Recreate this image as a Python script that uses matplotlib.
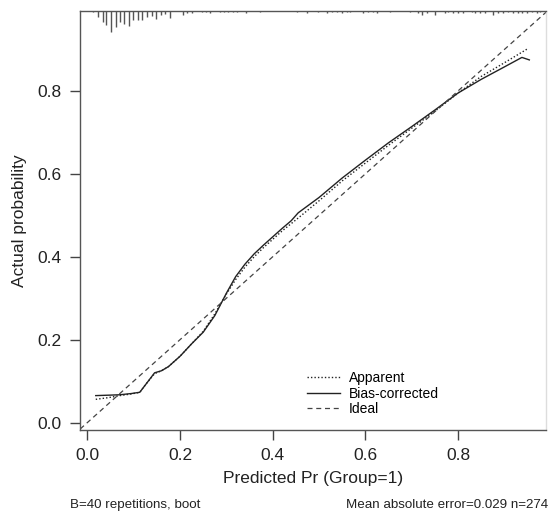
import matplotlib
matplotlib.use("Agg")
import matplotlib.pyplot as plt
import matplotlib.transforms as mtransforms

plt.rcParams['font.family'] = ['Liberation Sans', 'DejaVu Sans']

# Apparent calibration curve
app_x = [0.018, 0.045, 0.07, 0.095, 0.113, 0.128, 0.145, 0.16, 0.175, 0.20, 0.225, 0.25,
         0.275, 0.30, 0.32, 0.34, 0.36, 0.38, 0.40, 0.42, 0.44, 0.46, 0.50, 0.55,
         0.60, 0.65, 0.70, 0.75, 0.80, 0.85, 0.90, 0.952]
app_y = [0.056, 0.060, 0.065, 0.069, 0.073, 0.095, 0.118, 0.125, 0.135, 0.160, 0.190, 0.220,
         0.262, 0.310, 0.345, 0.375, 0.400, 0.422, 0.442, 0.462, 0.480, 0.498, 0.535, 0.583,
         0.626, 0.669, 0.710, 0.751, 0.795, 0.835, 0.868, 0.903]

# Bias-corrected calibration curve
bc_x = [0.018, 0.045, 0.07, 0.095, 0.113, 0.128, 0.145, 0.16, 0.175, 0.20, 0.225, 0.25,
        0.275, 0.30, 0.32, 0.34, 0.36, 0.38, 0.40, 0.42, 0.44, 0.455, 0.50, 0.55,
        0.60, 0.65, 0.70, 0.75, 0.80, 0.85, 0.90, 0.938, 0.954]
bc_y = [0.065, 0.066, 0.067, 0.070, 0.073, 0.095, 0.120, 0.125, 0.135, 0.160, 0.190, 0.218,
        0.258, 0.312, 0.352, 0.382, 0.407, 0.428, 0.448, 0.468, 0.487, 0.506, 0.543, 0.590,
        0.633, 0.675, 0.714, 0.754, 0.795, 0.828, 0.858, 0.881, 0.875]

# Histogram of predicted probabilities (rug along top), lengths in pixel-like units
rug_x = [0.0125, 0.023, 0.033, 0.041, 0.051, 0.061, 0.070, 0.079, 0.090, 0.099, 0.110,
         0.118, 0.128, 0.139, 0.148, 0.158, 0.168, 0.178, 0.206, 0.215, 0.226, 0.247,
         0.256, 0.265, 0.286, 0.295, 0.304, 0.314, 0.322, 0.342, 0.373, 0.452, 0.474,
         0.498, 0.517, 0.528, 0.539, 0.550, 0.561, 0.567, 0.595, 0.606, 0.617, 0.625,
         0.653, 0.697, 0.714, 0.722, 0.733, 0.751, 0.772, 0.779, 0.789, 0.800, 0.811,
         0.830, 0.837, 0.847, 0.858, 0.876, 0.886, 0.897, 0.908, 0.919, 0.930, 0.938,
         0.949, 0.960, 0.971, 0.977]
rug_len = [1, 6, 11, 14, 21, 16, 11, 13, 15, 9, 9,
           9, 6, 5, 8, 4, 3, 7, 4, 2, 2, 1,
           1, 2, 1, 1, 1, 1, 1, 2, 1, 1, 2,
           1, 2, 1, 1, 2, 1, 1, 2, 1, 1, 2,
           1, 1, 2, 4, 2, 4, 2, 1, 2, 2, 2,
           1, 2, 2, 2, 4, 2, 2, 1, 2, 2, 2,
           2, 1, 2, 1]

xticks = [0.0, 0.2, 0.4, 0.6, 0.8]
yticks = [0.0, 0.2, 0.4, 0.6, 0.8]

W, H = 552, 517
fig = plt.figure(figsize=(W / 100, H / 100), dpi=100)
ax = fig.add_axes([80 / W, (H - 430) / H, (546 - 80) / W, (430 - 11) / H])

ax.set_xlim(-0.016, 0.99)
ax.set_ylim(-0.018, 0.993)

ax.plot(app_x, app_y, linestyle=(0, (1, 1.5)), color='#222222', lw=1.0, label='Apparent')
ax.plot(bc_x, bc_y, linestyle='-', color='#222222', lw=1.0, label='Bias-corrected')
ax.plot([-0.1, 1.1], [-0.1, 1.1], linestyle=(0, (4, 3)), color='#444444', lw=0.9, label='Ideal')

# rug / spike histogram at top
trans = mtransforms.blended_transform_factory(ax.transData, ax.transAxes)
axh = 430 - 11
for xv, ln in zip(rug_x, rug_len):
    ax.plot([xv, xv], [1.0, 1.0 - ln / axh], color='#555555', lw=1.0, transform=trans,
            solid_capstyle='butt', clip_on=False)

ax.set_xticks(xticks)
ax.set_yticks(yticks)
ax.set_xticklabels([f'{v:.1f}' for v in xticks])
ax.set_yticklabels([f'{v:.1f}' for v in yticks])
ax.tick_params(direction='out', length=7, width=1, colors='#444444', labelcolor='#222222',
               labelsize=12.5, pad=6)
for s in ['left', 'bottom', 'top']:
    ax.spines[s].set_color('#555555')
    ax.spines[s].set_linewidth(1.0)
ax.spines['right'].set_color('#dddddd')
ax.spines['right'].set_linewidth(1.0)

ax.set_xlabel('Predicted Pr (Group=1)', fontsize=12.5, color='#222222', labelpad=6)
ax.set_ylabel('Actual probability', fontsize=12.5, color='#222222', labelpad=8)

leg = ax.legend(loc='lower left', bbox_to_anchor=(0.475, 0.02), frameon=False, fontsize=10,
                handlelength=2.4, handletextpad=0.6, labelspacing=0.1, borderaxespad=0)

fig.text(70 / W, 1 - 508 / H, 'B=40 repetitions, boot', fontsize=9.6, color='#222222',
         ha='left', va='baseline')
fig.text(548 / W, 1 - 508 / H, 'Mean absolute error=0.029 n=274', fontsize=9.6,
         color='#222222', ha='right', va='baseline')

fig.savefig('out.png', dpi=100)
